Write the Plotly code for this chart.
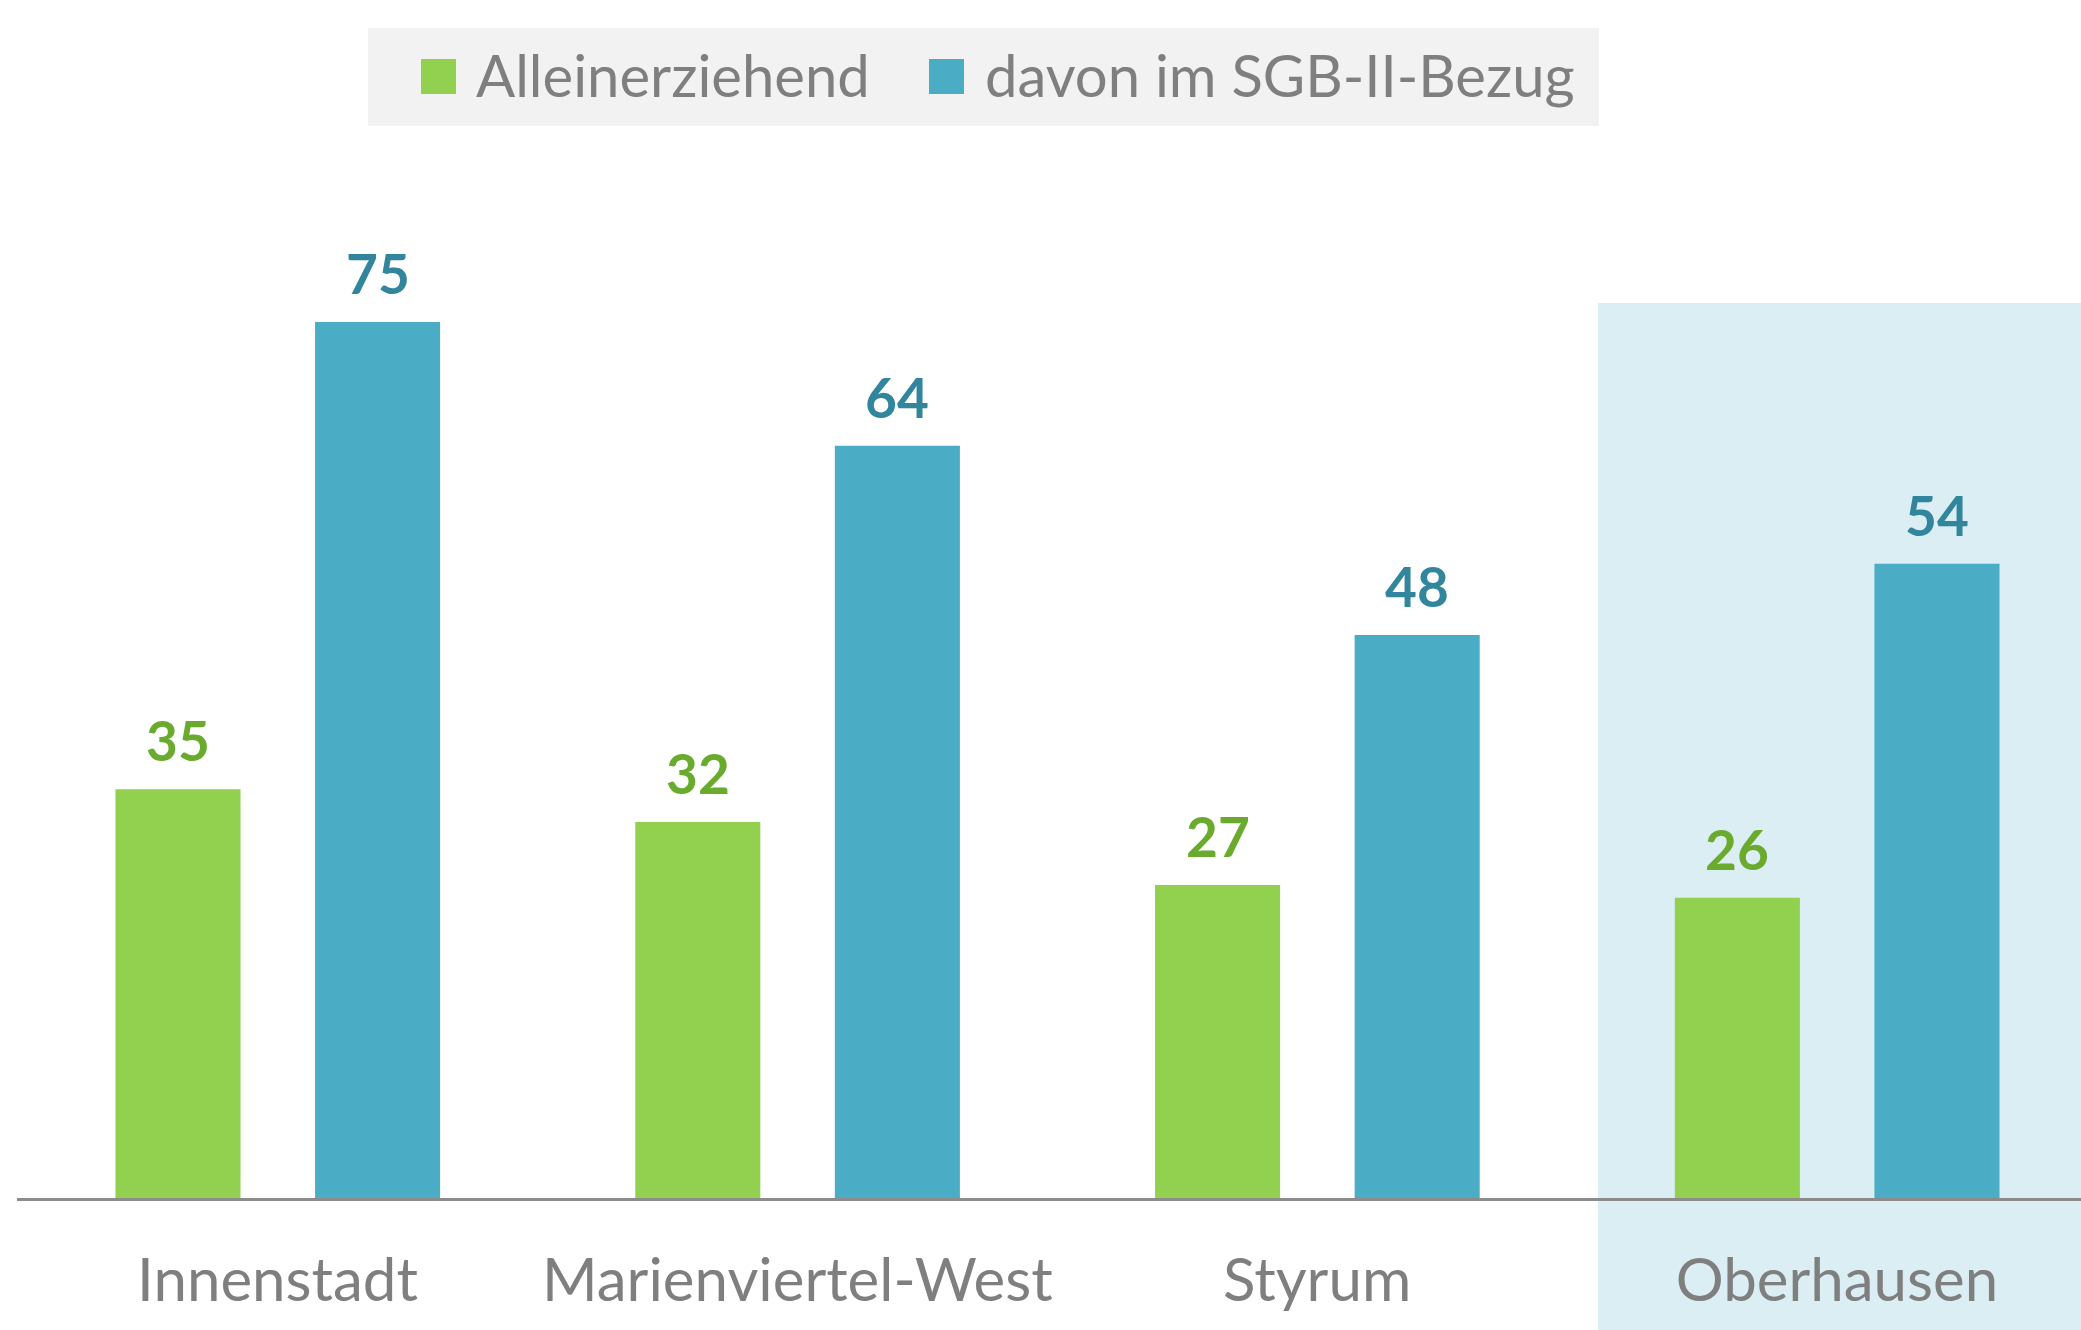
import plotly.graph_objects as go

# ---- data ----
categories = ["Innenstadt", "Marienviertel-West", "Styrum", "Oberhausen"]
series_names = ["Alleinerziehend", "davon im SGB-II-Bezug"]
# values (labels shown rounded)
alleinerziehend = [35.0, 32.2, 26.8, 25.7]
sgb2_bezug = [75.0, 64.4, 48.2, 54.3]

# ---- styling ----
W, H = 2081, 1330
GREEN = "#92D050"
BLUE = "#4BACC6"
GREEN_LABEL = "#6AAB2E"
BLUE_LABEL = "#31859C"
GRAY_TEXT = "#7F7F7F"
FONT = "Lato, Carlito, Calibri, sans-serif"

def px_x(p):
    return p / W

def px_y(p):
    return 1 - p / H

xpos = list(range(len(categories)))
bar_w = 0.2406
off_green = -0.3118
off_blue = 0.0722

fig = go.Figure()
fig.add_trace(go.Bar(
    x=xpos, y=alleinerziehend, name=series_names[0],
    marker=dict(color=GREEN, line=dict(width=0)),
    width=bar_w, offset=off_green, showlegend=False,
))
fig.add_trace(go.Bar(
    x=xpos, y=sgb2_bezug, name=series_names[1],
    marker=dict(color=BLUE, line=dict(width=0)),
    width=bar_w, offset=off_blue, showlegend=False,
))

annotations = []
for i, (g, b) in enumerate(zip(alleinerziehend, sgb2_bezug)):
    annotations.append(dict(
        x=i + off_green + bar_w / 2, y=g, xref="x", yref="y",
        text=f"<b>{g:.0f}</b>", showarrow=False, yanchor="bottom",
        yshift=14, font=dict(family=FONT, size=55, color=GREEN_LABEL),
    ))
    annotations.append(dict(
        x=i + off_blue + bar_w / 2, y=b, xref="x", yref="y",
        text=f"<b>{b:.0f}</b>", showarrow=False, yanchor="bottom",
        yshift=14, font=dict(family=FONT, size=55, color=BLUE_LABEL),
    ))

# manual legend (large squares like the original)
legend_items = [(series_names[0], GREEN, 421, 474), (series_names[1], BLUE, 929, 983)]
shapes = [
    # highlight box for Oberhausen
    dict(type="rect", xref="paper", yref="paper",
         x0=px_x(1598), x1=1.0, y0=0.0, y1=px_y(303),
         fillcolor="#DAEEF3", line=dict(width=0), layer="below"),
    # legend background
    dict(type="rect", xref="paper", yref="paper",
         x0=px_x(368), x1=px_x(1599), y0=px_y(126), y1=px_y(28),
         fillcolor="#F2F2F2", line=dict(width=0), layer="below"),
]
for name, col, sx, tx in legend_items:
    shapes.append(dict(type="rect", xref="paper", yref="paper",
                       x0=px_x(sx), x1=px_x(sx + 35), y0=px_y(94), y1=px_y(59),
                       fillcolor=col, line=dict(width=0)))
    annotations.append(dict(
        x=px_x(tx), y=px_y(74), xref="paper", yref="paper",
        text=name, showarrow=False, xanchor="left", yanchor="middle",
        font=dict(family=FONT, size=58, color=GRAY_TEXT),
    ))

fig.update_layout(
    width=W, height=H,
    margin=dict(l=0, r=0, t=0, b=0),
    paper_bgcolor="white",
    plot_bgcolor="rgba(0,0,0,0)",
    showlegend=False,
    barmode="overlay",
    shapes=shapes,
    annotations=annotations,
    xaxis=dict(
        domain=[17 / W, 1.0],
        range=[-0.5012, 3.4696],
        tickmode="array", tickvals=xpos, ticktext=categories,
        tickfont=dict(family=FONT, size=60, color=GRAY_TEXT),
        showline=True, linecolor="#8C8C8C", linewidth=3,
        showgrid=False, zeroline=False,
        ticks="outside", ticklen=28, tickcolor="rgba(0,0,0,0)",
        automargin=False, fixedrange=True,
    ),
    yaxis=dict(
        domain=[132 / H, 1.0],
        range=[0, 102.57],
        visible=False, showgrid=False, zeroline=False,
        automargin=False, fixedrange=True,
    ),
)

fig.write_html(
    "out.html",
    config={"displayModeBar": False},
    post_script="document.body.style.margin='0';document.body.style.overflow='hidden';",
)
